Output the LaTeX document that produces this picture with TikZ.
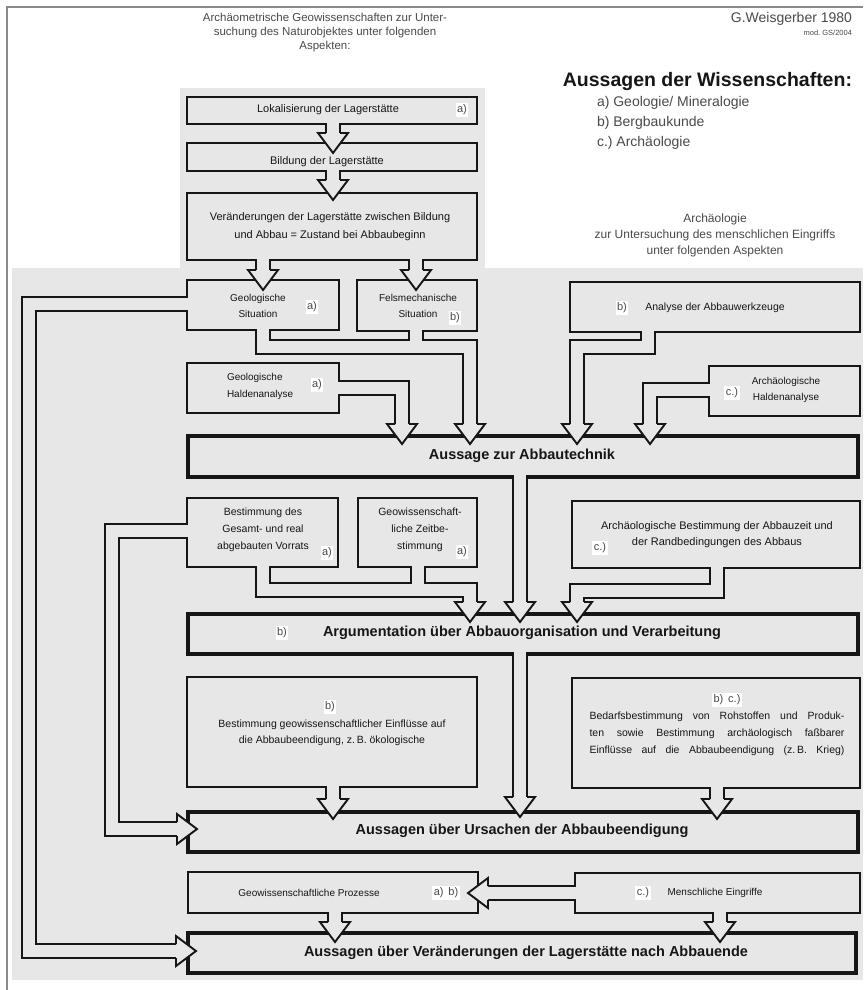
\documentclass[tikz,border=0pt]{standalone}
\usepackage{fontspec}
\setmainfont{Liberation Sans}
\frenchspacing
\definecolor{bgc}{HTML}{E7E7E7}
\definecolor{ink}{HTML}{161616}
\definecolor{frm}{HTML}{8A8A8A}
\definecolor{hdr}{HTML}{4A4A4A}
\newcommand\fsz[2]{\fontsize{#1}{#2}\selectfont}
\newcommand\mkbox[6]{\node[#2, minimum width={#5-#3}, minimum height={#6-#4}] (#1) at (#3,#4) {};}
\tikzset{
  every node/.style={inner sep=0pt, outer sep=0pt, text=ink},
  chanout/.style={line width=16pt, draw=ink, line join=miter},
  chanin/.style={line width=12pt, draw=bgc, line join=miter},
  bx/.style={draw=ink, line width=1.9pt, fill=bgc, anchor=north west},
  bbx/.style={draw=ink, line width=3.2pt, fill=bgc, anchor=north west},
  hd/.style={fill=bgc, draw=ink, line width=1.9pt, line join=miter},
  txt/.style={align=center, font=\fsz{10.5}{17}},
  ttl/.style={align=center, font=\fsz{14.5}{17}\bfseries},
  lab/.style={fill=white, inner sep=1.5pt, text=hdr, font=\fsz{11}{13}},
  pics/hdown/.style={code={\filldraw[hd] (-7,-20) -- (-15,-20) -- (0,0) -- (15,-20) -- (7,-20);}},
}
\newcommand\allchan[1]{%
 \draw[#1] (333,118) -- (333,135);
 \draw[#1] (333,166) -- (333,182);
 \draw[#1] (263,254) -- (263,272);
 \draw[#1] (416,254) -- (416,272);
 \draw[#1] (263,324) -- (263,347) -- (470,347) -- (470,426);
 \draw[#1] (416,325) -- (416,347);
 \draw[#1] (193,304) -- (29,304) -- (29,951) -- (178,951);
 \draw[#1] (333,388) -- (402,388) -- (402,426);
 \draw[#1] (648,326) -- (648,347) -- (577,347) -- (577,426);
 \draw[#1] (715,390) -- (650,390) -- (650,426);
 \draw[#1] (520,471) -- (520,604);
 \draw[#1] (263,561) -- (263,590) -- (470,590) -- (470,604);
 \draw[#1] (418,561) -- (418,590);
 \draw[#1] (193,531) -- (112,531) -- (112,829) -- (179,829);
 \draw[#1] (717,562) -- (717,591) -- (577,591) -- (577,604);
 \draw[#1] (520,648) -- (520,799);
 \draw[#1] (333,781) -- (333,801);
 \draw[#1] (717,782) -- (717,801);
 \draw[#1] (581,893) -- (486,893);
 \draw[#1] (335,907) -- (335,924);
 \draw[#1] (720,907) -- (720,924);
}
\begin{document}
\begin{tikzpicture}[x=1pt,y=-1pt]
\useasboundingbox (0,0) rectangle (863,990);
\fill[white] (0,0) rectangle (863,990);
\fill[bgc] (180,88) rectangle (485,272);
\fill[bgc] (12,268) rectangle (863,980);
\draw[frm, line width=2pt] (7,990) -- (7,7) -- (863,7);

% header texts
\node[align=center, text=hdr, font=\fsz{11.5}{14}] (h1) at (325,33) {Archäometrische Geowissenschaften zur Unter-\\suchung des Naturobjektes unter folgenden\\Aspekten:};
\node[anchor=east, text=hdr, font=\fsz{14}{16}] (h2) at (852,19) {G.Weisgerber 1980};
\node[anchor=east, text=hdr, font=\fsz{7.5}{9}] (h3) at (852,33) {mod. GS/2004};
\node[anchor=east, font=\fsz{19.5}{22}\bfseries] (h4) at (852,82) {Aussagen der Wissenschaften:};
\node[anchor=west, text=hdr, font=\fsz{14}{20}, align=left] (h5) at (597,123) {a) Geologie/ Mineralogie\\b) Bergbaukunde\\c.) Archäologie};
\node[align=center, text=hdr, font=\fsz{12}{16}] (h6) at (715,235) {Archäologie\\zur Untersuchung des menschlichen Eingriffs\\unter folgenden Aspekten};

% layer 1: channel outlines
\allchan{chanout}

% layer 2: boxes
\mkbox{b1}{bx}{187}{97}{477}{124}
\mkbox{b2}{bx}{187}{143}{477}{171}
\mkbox{b3}{bx}{187}{193}{477}{260}
\mkbox{b4}{bx}{187}{280}{339}{330}
\mkbox{b5}{bx}{357}{280}{477}{331}
\mkbox{b6}{bx}{187}{363}{339}{413}
\mkbox{b7}{bx}{570}{282}{860}{332}
\mkbox{b8}{bx}{709}{366}{860}{416}
\mkbox{b9}{bbx}{188}{436}{858}{477}
\mkbox{b10}{bx}{187}{498}{338}{567}
\mkbox{b11}{bx}{358}{498}{477}{567}
\mkbox{b12}{bx}{572}{501}{860}{568}
\mkbox{b13}{bbx}{188}{614}{858}{654}
\mkbox{b14}{bx}{187}{677}{477}{787}
\mkbox{b15}{bx}{572}{678}{860}{788}
\mkbox{b16}{bbx}{188}{812}{858}{852}
\mkbox{b17}{bx}{188}{872}{478}{913}
\mkbox{b18}{bx}{575}{873}{860}{913}
\mkbox{b19}{bbx}{188}{933}{856}{973}

% layer 3: channel interiors
\allchan{chanin}

% layer 4: arrow heads
\foreach \x/\y/\r in {333/153/0, 333/200/0, 263/290/0, 416/290/0, 470/444/0, 402/444/0, 577/444/0, 650/444/0,
  520/622/0, 470/622/0, 577/622/0, 520/817/0, 333/819/0, 717/819/0, 335/942/0, 720/942/0,
  196/951/90, 197/829/90, 468/893/-90}
  \pic[rotate=\r] at (\x,\y) {hdown};

% layer 5: texts
\node[txt, font=\fsz{11}{17}] (t1) at (328,110) {Lokalisierung der Lagerstätte};
\node[txt, font=\fsz{11}{17}] (t2) at (327,162) {Bildung der Lagerstätte};
\node[txt, font=\fsz{11}{18}] (t3) at (330,227) {Veränderungen der Lagerstätte zwischen Bildung\\und Abbau = Zustand bei Abbaubeginn};
\node[txt, font=\fsz{10}{16}] (t4) at (258,306) {Geologische\\Situation};
\node[txt, font=\fsz{10}{16}] (t5) at (418,306) {Felsmechanische\\Situation};
\node[txt, font=\fsz{10}{17}, align=left, anchor=west] (t6) at (227,386) {Geologische\\Haldenanalyse};
\node[txt] (t7) at (715,308) {Analyse der Abbauwerkzeuge};
\node[txt, font=\fsz{10}{16}] (t8) at (786,390) {Archäologische\\Haldenanalyse};
\node[ttl] (t9) at (522,456) {Aussage zur Abbautechnik};
\node[txt] (t10) at (263,530) {Bestimmung des\\Gesamt- und real\\abgebauten Vorrats};
\node[txt] (t11) at (420,530) {Geowissenschaft-\\liche Zeitbe-\\stimmung};
\node[txt, font=\fsz{11}{16}] (t12) at (717,535) {Archäologische Bestimmung der Abbauzeit und\\der Randbedingungen des Abbaus};
\node[ttl] (t13) at (522,633) {Argumentation über Abbauorganisation und Verarbeitung};
\node[txt, font=\fsz{10.5}{16}] (t14) at (332,733) {Bestimmung geowissenschaftlicher Einflüsse auf\\die Abbaubeendigung, z.\,B. ökologische};
\node[txt, font=\fsz{10.5}{17}] (t15) at (717,734) {\makebox[255pt][s]{Bedarfsbestimmung von Rohstoffen und Produk-}\\\makebox[255pt][s]{ten sowie Bestimmung archäologisch faßbarer}\\\makebox[255pt][s]{Einflüsse auf die Abbaubeendigung (z.\,B. Krieg)}};
\node[ttl] (t16) at (522,831) {Aussagen über Ursachen der Abbaubeendigung};
\node[txt, font=\fsz{10}{12}] (t17) at (309,893) {Geowissenschaftliche Prozesse};
\node[txt, font=\fsz{10}{12}] (t18) at (715,893) {Menschliche Eingriffe};
\node[ttl] (t19) at (526,953) {Aussagen über Veränderungen der Lagerstätte nach Abbauende};

% labels
\node[lab] (l1) at (462,110) {a)};
\node[lab] (l2) at (312,307) {a)};
\node[lab] (l3) at (455,318) {b)};
\node[lab] (l4) at (317,385) {a)};
\node[lab] (l5) at (622,308) {b)};
\node[lab] (l6) at (732,393) {c.)};
\node[lab] (l7) at (327,553) {a)};
\node[lab] (l8) at (462,552) {a)};
\node[lab] (l9) at (600,548) {c.)};
\node[lab] (l10) at (282,633) {b)};
\node[lab] (l11) at (330,707) {b)};
\node[lab] (l12) at (727,700) {b)\, c.)};
\node[lab] (l13) at (446,893) {a)\, b)};
\node[lab] (l14) at (643,893) {c.)};
\end{tikzpicture}
\end{document}
